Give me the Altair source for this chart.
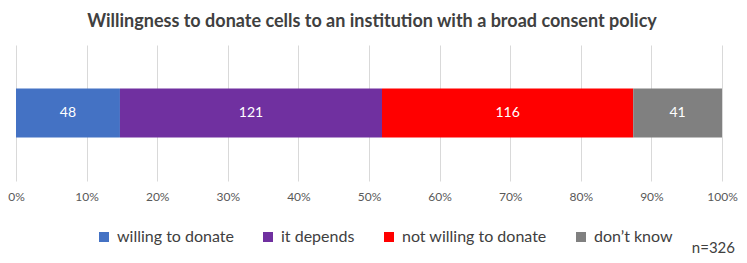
import altair as alt
import pandas as pd

categories = ["willing to donate", "it depends", "not willing to donate", "don\u2019t know"]
counts = [48, 121, 116, 41]
colors = ["#4472C4", "#7030A0", "#FF0000", "#808080"]
total_label = "n=326"
title_text = "Willingness to donate cells to an institution with a broad consent policy"

df = pd.DataFrame({
    "category": categories,
    "count": counts,
    "order": list(range(len(categories))),
    "row": ["all"] * len(categories),
})

FONT = "Lato"
W, H = 706, 136

base = alt.Chart(df).encode(
    y=alt.Y("row:N", axis=None),
)

bars = base.mark_bar(size=49).encode(
    x=alt.X(
        "count:Q",
        stack="normalize",
        scale=alt.Scale(domain=[0, 1], nice=False),
        axis=alt.Axis(
            format="%",
            values=[i / 10 for i in range(11)],
            grid=True,
            gridColor="#d9d9d9",
            gridWidth=1,
            domain=False,
            ticks=False,
            labelFlush=False,
            labelBound=False,
            labelOverlap=False,
            labelPadding=10,
            labelFont=FONT,
            labelFontSize=12,
            labelColor="#595959",
            title=None,
        ),
    ),
    color=alt.Color(
        "category:N",
        sort=categories,
        scale=alt.Scale(domain=categories, range=colors),
        legend=alt.Legend(
            title=None,
            orient="none",
            legendX=80,
            legendY=184,
            direction="horizontal",
            symbolType="square",
            symbolSize=100,
            symbolStrokeWidth=0,
            labelFont=FONT,
            labelFontSize=16,
            labelColor="#404040",
            columnPadding=26,
            labelOffset=5,
        ),
    ),
    order=alt.Order("order:Q"),
)

labels = base.mark_text(color="white", font=FONT, fontSize=14).encode(
    x=alt.X("count:Q", stack="normalize", bandPosition=0.5),
    text=alt.Text("count:Q"),
    order=alt.Order("order:Q"),
)

ntext = alt.Chart(pd.DataFrame({"t": [total_label]})).mark_text(
    align="right", baseline="middle", font=FONT, fontSize=15, color="#404040"
).encode(
    x=alt.value(719),
    y=alt.value(203),
    text="t:N",
)

chart = (
    alt.layer(bars, labels, ntext)
    .properties(
        width=W,
        height=H,
        title=alt.TitleParams(
            title_text,
            font=FONT,
            fontSize=18,
            fontWeight="bold",
            color="#404040",
            anchor="middle",
            offset=14,
            dx=3,
        ),
        autosize=alt.AutoSizeParams(type="none"),
        padding={"left": 8, "top": 37, "right": 17, "bottom": 74},
    )
    .configure_view(stroke=None)
)

chart.save("out.html", embed_options={"renderer": "svg", "actions": False})
